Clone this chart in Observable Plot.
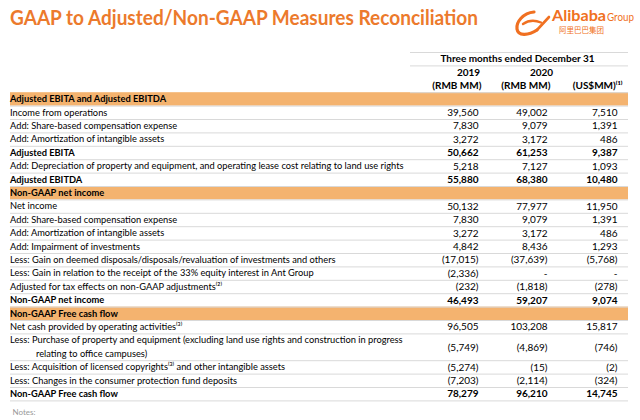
<!DOCTYPE html>
<html><head><meta charset="utf-8">
<script src="https://cdn.jsdelivr.net/npm/d3@7"></script>
<script src="https://cdn.jsdelivr.net/npm/@observablehq/plot@0.6"></script>
<style>
html,body{margin:0;padding:0;background:#fff;}
body{width:640px;height:420px;overflow:hidden;font-family:Lato,"Noto Sans",sans-serif;}
#head{position:relative;height:45px;}
#title{position:absolute;left:10px;top:7px;font-weight:700;font-size:20.5px;line-height:20px;color:#EC7A2C;white-space:nowrap;transform-origin:0 50%;}
#logo{position:absolute;left:508px;top:5px;}
</style></head><body>
<div id="head">
  <div id="title">GAAP to Adjusted/Non-GAAP Measures Reconciliation</div>
  <svg id="logo" width="132" height="34" viewBox="0 0 132 34">
    <g transform="translate(6,0)">
    <path d="M20 7 C 9 8, 2 17, 3 24 C 4 31, 14 31, 23 25" stroke="#F07021" stroke-width="3.2" fill="none" stroke-linecap="round"/>
    <path d="M9 19 C 14 15.5, 21 15, 27 17.5" stroke="#F07021" stroke-width="2.4" fill="none" stroke-linecap="round"/>
    <path d="M23 25 L 35 12" stroke="#F07021" stroke-width="2.6" fill="none" stroke-linecap="round"/>
    <text x="38" y="16" fill="#F07021" font-family="Lato, sans-serif" font-weight="700" font-size="14.5" textLength="54" lengthAdjust="spacingAndGlyphs">Alibaba</text>
    <text x="93" y="16" fill="#F07021" font-family="Lato, sans-serif" font-size="11.5" textLength="27" lengthAdjust="spacingAndGlyphs">Group</text>
    <text x="45" y="28" fill="#F07021" font-family="'Noto Sans CJK SC', sans-serif" font-size="7.5">阿里巴巴集团</text>
    </g>
  </svg>
</div>
<div id="chart"></div>
<script>
// ---------- data ----------
const labels = [
  "Adjusted EBITA and Adjusted EBITDA",
  "Income from operations",
  "Add: Share-based compensation expense",
  "Add: Amortization of intangible assets",
  "Adjusted EBITA",
  "Add: Depreciation of property and equipment, and operating lease cost relating to land use rights",
  "Adjusted EBITDA",
  "Non-GAAP net income",
  "Net income",
  "Add: Share-based compensation expense",
  "Add: Amortization of intangible assets",
  "Add: Impairment of investments",
  "Less: Gain on deemed disposals/disposals/revaluation of investments and others",
  "Less: Gain in relation to the receipt of the 33% equity interest in Ant Group",
  "Adjusted for tax effects on non-GAAP adjustments⁽²⁾",
  "Non-GAAP net income",
  "Non-GAAP Free cash flow",
  "Net cash provided by operating activities⁽³⁾",
  "Less: Purchase of property and equipment (excluding land use rights and construction in progress\nrelating to office campuses)",
  "Less: Acquisition of licensed copyrights⁽³⁾ and other intangible assets",
  "Less: Changes in the consumer protection fund deposits",
  "Non-GAAP Free cash flow"
];
const rowType = ["section","item","item","item","total","item","total",
  "section","item","item","item","item","item","item","item","total",
  "section","item","item","item","item","total"];
const rmb2019 = [null,39560,7830,3272,50662,5218,55880,
  null,50132,7830,3272,4842,-17015,-2336,-232,46493,
  null,96505,-5749,-5274,-7203,78279];
const rmb2020 = [null,49002,9079,3172,61253,7127,68380,
  null,77977,9079,3172,8436,-37639,"-",-1818,59207,
  null,103208,-4869,-15,-2114,96210];
const usd2020 = [null,7510,1391,486,9387,1093,10480,
  null,11950,1391,486,1293,-5768,"-",-278,9074,
  null,15817,-746,-2,-324,14745];
const periodLabel = "Three months ended December 31";
const yearLabels = ["2019","2020"];
const unitLabels = ["(RMB MM)","(RMB MM)","(US$MM)⁽¹⁾"];
const noteLabel = "Notes:";

// ---------- layout ----------
const L = {left:10, right:628, headLeft:410, colRight:[478,547,617], unitRight:[481,550,622],
  yearCenter:[468,541], periodCenter:517, indent:28, rowH:13.4, band:"#F4B36F", grid:"#d9d9d9",
  labelWidth:394};

const fmtN = d3.format(",");
const fmt = v => v == null ? "" : typeof v === "string" ? v : v < 0 ? `(${fmtN(-v)})` : fmtN(v);

let cursor = 0;
const rows = labels.map((lab, k) => {
  const parts = lab.split("\n");
  const r = {k, parts, type: rowType[k], top: cursor, span: parts.length,
    v: [rmb2019[k], rmb2020[k], usd2020[k]]};
  cursor += parts.length;
  return r;
});
const nLines = cursor;
const textLines = rows.flatMap(r => r.parts.map((p, j) => ({text: p, y: r.top + j + 0.5, indent: j > 0, bold: r.type !== "item"})));
const cells = rows.flatMap(r => r.v.map((v, c) => ({text: fmt(v), y: r.top + r.span / 2, col: c, bold: r.type === "total"}))).filter(d => d.text);
const centerHead = [
  {text: periodLabel, x: L.periodCenter, y: -2.5},
  ...yearLabels.map((t, i) => ({text: t, x: L.yearCenter[i], y: -1.5}))
];
const unitHead = unitLabels.map((t, i) => ({text: t, x: L.unitRight[i], y: -0.5}));

const fs = 10;
const chart = Plot.plot({
  width: 640, height: 375, margin: 0,
  x: {domain: [0, 640], range: [0, 640], axis: null},
  y: {domain: [-3, nLines + 2], range: [7, 7 + (nLines + 5) * L.rowH], axis: null},
  style: {fontFamily: "Lato, 'Noto Sans', sans-serif", background: "#fff", color: "#000"},
  marks: [
    Plot.rect(rows.filter(r => r.type === "section"), {x1: L.left, x2: L.right, y1: r => r.top, y2: r => r.top + r.span, fill: L.band}),
    Plot.ruleY(rows, {y: r => r.top + r.span, x1: L.left, x2: L.right, stroke: L.grid, strokeWidth: 1}),
    Plot.ruleY([-3, -2, 0], {y: d => d, x1: L.headLeft, x2: L.right, stroke: L.grid, strokeWidth: 1}),
    Plot.text(textLines.filter(d => !d.bold), {x: d => d.indent ? L.left + L.indent : L.left, y: "y", text: "text", textAnchor: "start", fontSize: fs, fill: "#000", className: "lbl"}),
    Plot.text(textLines.filter(d => d.bold), {x: L.left, y: "y", text: "text", textAnchor: "start", fontSize: fs, fontWeight: "bold", fill: "#000", className: "lbl"}),
    Plot.text(cells.filter(d => !d.bold), {x: d => L.colRight[d.col], y: "y", text: "text", textAnchor: "end", fontSize: fs, fill: "#000"}),
    Plot.text(cells.filter(d => d.bold), {x: d => L.colRight[d.col], y: "y", text: "text", textAnchor: "end", fontSize: fs, fontWeight: "bold", fill: "#000"}),
    Plot.text(centerHead, {x: "x", y: "y", text: "text", textAnchor: "middle", fontSize: fs, fontWeight: "bold", fill: "#000"}),
    Plot.text(unitHead, {x: "x", y: "y", text: "text", textAnchor: "end", fontSize: fs, fontWeight: "bold", fill: "#000"}),
    Plot.text([noteLabel], {x: L.left + 2, y: nLines + 0.85, text: d => d, textAnchor: "start", fontSize: 8, fill: "#999"})
  ]
});
document.getElementById("chart").appendChild(chart);

// condense the row labels to the reference's narrower face
let maxLen = 0;
chart.querySelectorAll("g.lbl text").forEach(el => { maxLen = Math.max(maxLen, el.getComputedTextLength()); });
const s = maxLen > 0 ? Math.min(1, L.labelWidth / maxLen) : 1;
chart.querySelectorAll("g.lbl").forEach(g => {
  g.setAttribute("transform", `translate(${L.left},0) scale(${s},1) translate(${-L.left},0)`);
});
// fit title width like the reference
const t = document.getElementById("title");
const tw = t.getBoundingClientRect().width;
t.style.transform = `scaleX(${Math.min(1, 468 / tw)})`;
</script>
</body></html>
